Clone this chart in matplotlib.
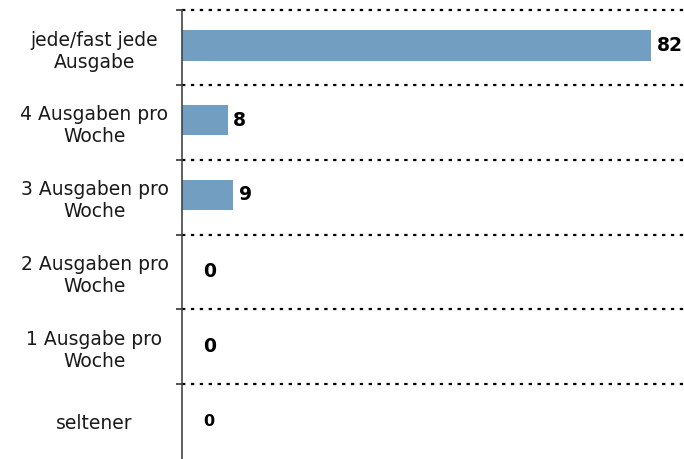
import numpy as np
import matplotlib.pyplot as plt

# Data
categories = ['jede/fast jede\nAusgabe', '4 Ausgaben pro\nWoche', '3 Ausgaben pro\nWoche',
              '2 Ausgaben pro\nWoche', '1 Ausgabe pro\nWoche', 'seltener']
values = [82, 8, 9, 0, 0, 0]
value_labels = ['82', '8', '9', '0', '0', '0']

fig = plt.figure(figsize=(6.84, 4.59), dpi=100)
ax = fig.add_axes([0.266, 0.0, 0.734, 0.978])

y = np.arange(len(categories))
ax.barh(y - 0.03, values, height=0.41, color='#729fc1')

ax.set_xlim(0, 87.8)
ax.set_ylim(len(categories) - 0.5, -0.5)

# dotted separators between categories
for b in np.arange(-0.5, len(categories) - 1, 1.0):
    ax.axhline(b, color='black', linestyle=(0, (1.5, 2.5)), linewidth=1.6, zorder=0, clip_on=False)

# value labels
for i, (v, lab) in enumerate(zip(values, value_labels)):
    if v > 0:
        ax.annotate(lab, (v, i - 0.03), xytext=(4, 0), textcoords='offset points',
                    va='center', ha='left', fontsize=13.5, fontweight='bold')
    else:
        size = 11.5 if i == len(values) - 1 else 13.5
        ax.annotate(lab, (0, i), xytext=(15, 0), textcoords='offset points',
                    va='center', ha='left', fontsize=size, fontweight='bold')

ax.set_yticks(y)
ax.set_yticklabels(categories, fontsize=13.5, color='#1a1a1a', ha='center', multialignment='center')
ax.tick_params(axis='y', which='major', length=0, pad=63)
ax.set_yticks(np.arange(-0.5, len(categories) - 1, 1.0), minor=True)
ax.tick_params(axis='y', which='minor', length=4, width=1.2, color='#333333')
ax.set_xticks([])

for s in ['top', 'right', 'bottom']:
    ax.spines[s].set_visible(False)
ax.spines['left'].set_color('#444444')
ax.spines['left'].set_linewidth(1.2)

fig.savefig('out.png', dpi=100)
